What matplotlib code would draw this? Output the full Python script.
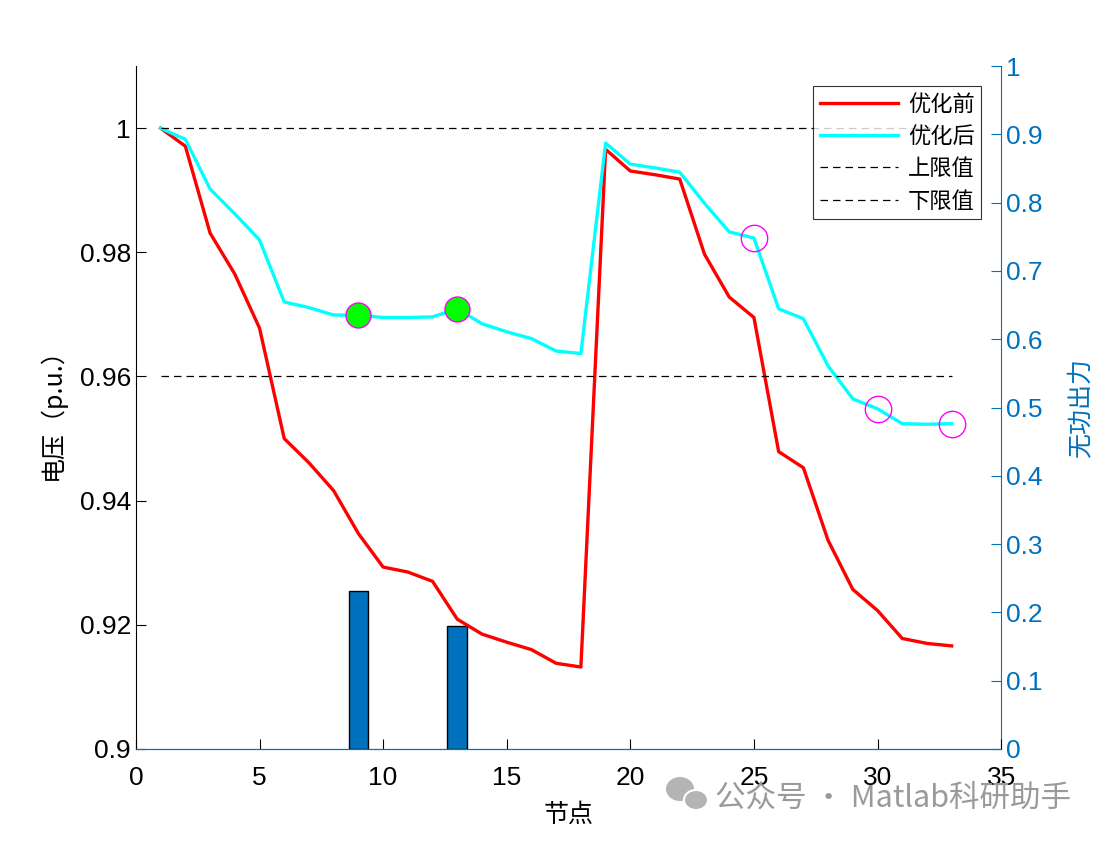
import numpy as np
import matplotlib
matplotlib.use("Agg")
import matplotlib.pyplot as plt
from matplotlib.patches import Ellipse

plt.rcParams['font.family'] = ['Liberation Sans', 'Noto Sans CJK SC', 'DejaVu Sans']

nodes = np.arange(1, 34)

v_before = [1.0000, 0.9971, 0.9831, 0.9765, 0.9678, 0.9500, 0.9461, 0.9416, 0.9347,
            0.9293, 0.9285, 0.9270, 0.9209, 0.9185, 0.9172, 0.9160, 0.9138, 0.9132,
            0.9966, 0.9931, 0.9925, 0.9918, 0.9797, 0.9728, 0.9695, 0.9479, 0.9453,
            0.9336, 0.9257, 0.9223, 0.9178, 0.9170, 0.9166]

v_after = [1.0000, 0.9982, 0.9902, 0.9862, 0.9820, 0.9720, 0.9711, 0.9699, 0.9699,
           0.9695, 0.9695, 0.9696, 0.9709, 0.9685, 0.9672, 0.9661, 0.9641, 0.9637,
           0.9976, 0.9942, 0.9936, 0.9929, 0.9879, 0.9833, 0.9823, 0.9709, 0.9693,
           0.9617, 0.9564, 0.9548, 0.9524, 0.9523, 0.9524]

v_upper = 1.00
v_lower = 0.96

comp_nodes = [9, 13]          # reactive compensation nodes
comp_q = [0.231, 0.180]
pv_nodes = [25, 30, 33]       # circled nodes

fig = plt.figure(figsize=(11.05, 8.42), dpi=100)
ax = fig.add_axes([0.123, 0.1105, 0.783, 0.811])
ax2 = ax.twinx()

blue = '#0072BD'

# bars on right axis
ax2.bar(comp_nodes, comp_q, width=0.8, color=blue, edgecolor='black', linewidth=1, zorder=1)
ax2.set_ylim(0, 1)
ax2.set_yticks(np.arange(0, 1.01, 0.1))
ax2.set_yticklabels(['0', '0.1', '0.2', '0.3', '0.4', '0.5', '0.6', '0.7', '0.8', '0.9', '1'])
ax2.tick_params(axis='y', colors=blue, direction='in', labelsize=19, length=7)
ax2.set_ylabel('无功出力', color=blue, fontsize=18, family=['Noto Sans CJK SC'], labelpad=18)

# lines on left axis, drawn over the bars
ax.set_zorder(ax2.get_zorder() + 1)
ax.patch.set_visible(False)

ax.plot(nodes, v_before, color='red', lw=2.4, label='优化前')
ax.plot(nodes, v_after, color='cyan', lw=2.4, label='优化后')
ax.plot([1, 33], [v_upper, v_upper], 'k--', lw=0.9, dashes=(6, 4), label='上限值')
ax.plot([1, 33], [v_lower, v_lower], 'k--', lw=0.9, dashes=(6, 4), label='下限值')

idx_c = [n - 1 for n in comp_nodes]
ax.plot(comp_nodes, [v_after[i] for i in idx_c], 'o', ms=18, mfc='#00FF00',
        mec='magenta', mew=1.0, ls='none')
idx_p = [n - 1 for n in pv_nodes]
ax.plot(pv_nodes, [v_after[i] for i in idx_p], 'o', ms=19, mfc='none',
        mec='magenta', mew=1.0, ls='none')

ax.set_xlim(0, 35)
ax.set_ylim(0.9, 1.01)
ax.set_xticks(np.arange(0, 36, 5))
ax.set_yticks([0.9, 0.92, 0.94, 0.96, 0.98, 1.0])
ax.set_yticklabels(['0.9', '0.92', '0.94', '0.96', '0.98', '1'])
ax.tick_params(direction='in', labelsize=19, length=7, width=0.8)
ax.tick_params(axis='x', pad=12)

ax.set_xlabel('节点', fontsize=18, family=['Noto Sans CJK SC'], labelpad=9)
ax.set_ylabel('电压（p.u.）', fontsize=18, family=['Noto Sans CJK SC'], labelpad=10)

for a in (ax, ax2):
    a.spines['top'].set_visible(False)
ax2.spines['right'].set_color(blue)
ax2.spines['left'].set_visible(False)
ax2.spines['bottom'].set_color(blue)
ax.spines['right'].set_visible(False)
ax.spines['bottom'].set_color(blue)

leg = ax.legend(loc='upper right', bbox_to_anchor=(0.977, 0.971),
                prop={'family': 'Noto Sans CJK SC', 'size': 16},
                frameon=True, fancybox=False, edgecolor='black',
                handlelength=3.5, borderpad=0.3, labelspacing=0.42, handletextpad=0.45,
                borderaxespad=0.0)
leg.get_frame().set_linewidth(0.8)

# watermark
W, H = 1105, 842
fig.patches.append(Ellipse((680 / W, 1 - 789 / H), 28 / W, 24 / H, transform=fig.transFigure,
                           facecolor='#b4b4b4', edgecolor='none'))
fig.patches.append(Ellipse((696 / W, 1 - 800 / H), 24 / W, 20 / H, transform=fig.transFigure,
                           facecolor='#b4b4b4', edgecolor='white', linewidth=1.5))
fig.text(0.647, 0.0523, '公众号 · Matlab科研助手', color='#9a9a9a', fontsize=22,
         va='center', family=['Noto Sans CJK SC', 'DejaVu Sans'])

fig.savefig('out.png', dpi=100)
